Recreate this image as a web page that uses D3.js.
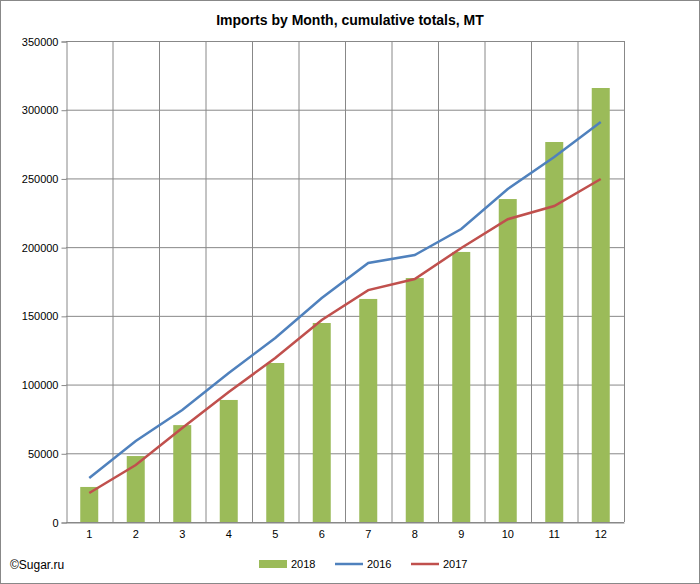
<!DOCTYPE html>
<html><head><meta charset="utf-8">
<script src="https://cdn.jsdelivr.net/npm/d3@7"></script>
<style>body{margin:0;background:#fff}text{font-family:"Liberation Sans",Arial,sans-serif}</style>
</head><body><svg id="c" width="700" height="584"></svg>
<script>
const months=[1,2,3,4,5,6,7,8,9,10,11,12];
const s2018=[25500,48000,70500,88800,115700,144800,162300,177500,196500,235000,276500,315800];
const s2016=[32000,59000,81500,108400,133900,163000,188500,194300,213200,242300,265600,291000];
const s2017=[21100,41500,68400,94600,119300,147000,168700,176800,199400,220300,229900,249600];
const yTicks=[0,50000,100000,150000,200000,250000,300000,350000];
const svg=d3.select("#c");
svg.append("rect").attr("x",0.5).attr("y",0.5).attr("width",699).attr("height",583).attr("fill","#fff").attr("stroke","#888");
const L=66,R=624,T=41,B=522;
const x=d3.scaleBand().domain(months).range([L,R]);
const y=d3.scaleLinear().domain([0,350000]).range([B,T]);
svg.append("g").selectAll("line").data(yTicks).join("line").attr("x1",L).attr("x2",R).attr("y1",d=>y(d)+.5).attr("y2",d=>y(d)+.5).attr("stroke","#888");
svg.append("g").selectAll("line").data(months.slice(1).concat([null])).join("line")
 .attr("x1",d=>d?x(d)+.5:R+.5).attr("x2",d=>d?x(d)+.5:R+.5).attr("y1",T).attr("y2",B).attr("stroke","#888");
const ya=svg.append("g").attr("transform",`translate(${L+.5},0.5)`).call(d3.axisLeft(y).tickValues(yTicks).tickFormat(d3.format("d")).tickSize(5));
ya.selectAll("text").attr("font-size",11).attr("fill","#000");ya.selectAll("path,line").attr("stroke","#888");
const xa=svg.append("g").attr("transform",`translate(0,${B+.5})`).call(d3.axisBottom(x).tickSize(0).tickPadding(8));
xa.selectAll("text").attr("font-size",11).attr("fill","#000");xa.select("path").attr("stroke","#888");
const bw=18;
svg.append("g").selectAll("rect").data(s2018).join("rect").attr("x",(d,i)=>x(months[i])+x.bandwidth()/2-bw/2).attr("width",bw).attr("y",d=>y(d)).attr("height",d=>B-y(d)).attr("fill","#9BBB59");
const line=d3.line().x((d,i)=>x(months[i])+x.bandwidth()/2).y(d=>y(d));
svg.append("path").attr("d",line(s2016)).attr("fill","none").attr("stroke","#4F81BD").attr("stroke-width",2.5);
svg.append("path").attr("d",line(s2017)).attr("fill","none").attr("stroke","#C0504D").attr("stroke-width",2.5);
svg.append("text").attr("x",350).attr("y",25).attr("text-anchor","middle").attr("font-size",14).attr("font-weight","bold").text("Imports by Month, cumulative totals, MT");
svg.append("text").attr("x",10).attr("y",569).attr("font-size",12).text("©Sugar.ru");
const lg=svg.append("g");
lg.append("rect").attr("x",259).attr("y",560).attr("width",28).attr("height",8).attr("fill","#9BBB59");
lg.append("text").attr("x",291).attr("y",568).attr("font-size",11).text("2018");
lg.append("line").attr("x1",335).attr("x2",363).attr("y1",564).attr("y2",564).attr("stroke","#4F81BD").attr("stroke-width",2.5);
lg.append("text").attr("x",367).attr("y",568).attr("font-size",11).text("2016");
lg.append("line").attr("x1",411).attr("x2",439).attr("y1",564).attr("y2",564).attr("stroke","#C0504D").attr("stroke-width",2.5);
lg.append("text").attr("x",443).attr("y",568).attr("font-size",11).text("2017");
</script></body></html>
